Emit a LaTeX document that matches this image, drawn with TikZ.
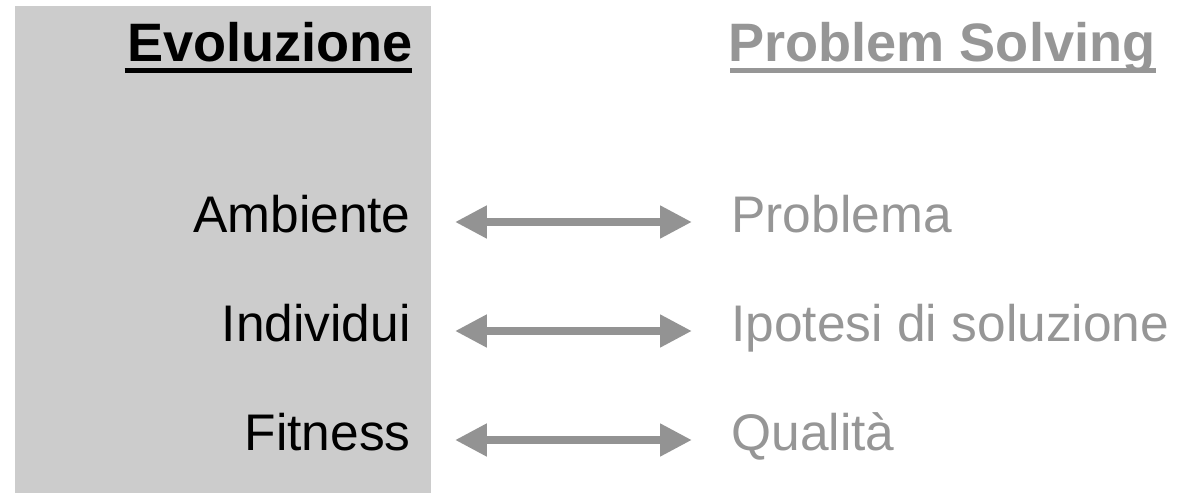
\documentclass[tikz,border=0pt]{standalone}
\usepackage{fontspec}
\setmainfont{Liberation Sans}
\usepackage{xcolor}
\usepackage{tikz}
\usetikzlibrary{arrows.meta, positioning, calc}
\definecolor{evofill}{HTML}{CCCCCC}
\definecolor{psgray}{HTML}{969696}
\definecolor{arrgray}{HTML}{939393}
\newcommand{\bodysize}{\fontsize{29.3}{32}\selectfont}
\newcommand{\hdrsize}{\bfseries\fontsize{30.8}{34}\selectfont}

\begin{document}
\begin{tikzpicture}[
  x=0.02cm, y=-0.02cm,
  hdr/.style={font=\hdrsize, inner sep=0pt},
  uline/.style={line width=2.84pt},
  lbl/.style={font=\bodysize, inner sep=0pt, text height=21pt, text depth=8.5pt},
  twoway/.style={
    {Triangle[length=18.2pt, width=17.6pt]}-{Triangle[length=18.2pt, width=17.6pt]},
    line width=5.1pt, arrgray, shorten <=25pt, shorten >=22.2pt},
]
  \useasboundingbox (0,0) rectangle (1189,493);

  % Shaded column for the evolution side
  \fill[evofill] (15,6) rectangle (431,493);

  % ── Column headers ───────────────────────────────────────────────────
  \node[hdr, anchor=base east] (evo) at (413,62) {Evoluzione};
  \node[hdr, anchor=base west, psgray] (ps) at (728,62) {Problem Solving};
  \draw[uline] ($(evo.base west)+(-2,8.5)$) -- ($(evo.base east)+(-1,8.5)$);
  \draw[uline, psgray] ($(ps.base west)+(2,8.5)$) -- ($(ps.base east)+(0,8.5)$);

  % ── Left column ──────────────────────────────────────────────────────
  \node[lbl, anchor=east] (amb) at (411,222) {Ambiente};
  \node[lbl, anchor=east] (ind) at (411,331) {Individui};
  \node[lbl, anchor=east] (fit) at (411,440) {Fitness};

  % ── Right column ─────────────────────────────────────────────────────
  \node[lbl, anchor=west, psgray] (prob) at (731,222) {Problema};
  \node[lbl, anchor=west, psgray] (ipo)  at (731,331) {Ipotesi di soluzione};
  \node[lbl, anchor=west, psgray] (qual) at (731,440) {Qualità};

  % ── Correspondences ──────────────────────────────────────────────────
  \draw[twoway] (amb) -- (prob);
  \draw[twoway] (ind) -- (ipo);
  \draw[twoway] (fit) -- (qual);
\end{tikzpicture}
\end{document}
